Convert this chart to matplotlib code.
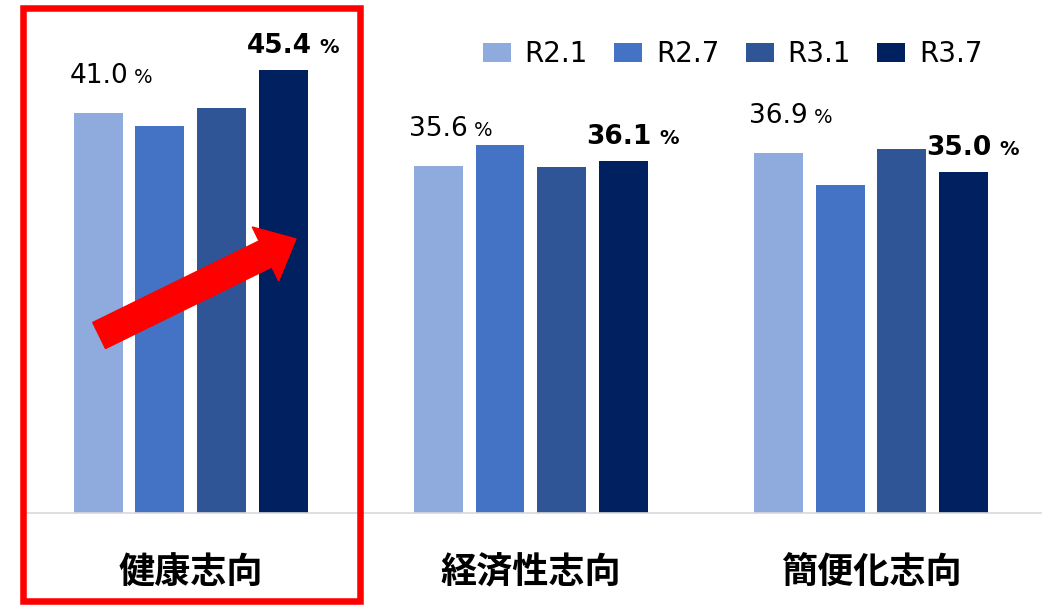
import matplotlib.pyplot as plt
import numpy as np
from matplotlib import patches, transforms

plt.rcParams["font.family"] = ["DejaVu Sans", "Noto Sans CJK JP"]

# data
categories = ["健康志向", "経済性志向", "簡便化志向"]
series = ["R2.1", "R2.7", "R3.1", "R3.7"]
colors = ["#8FAADC", "#4472C4", "#2F5597", "#002060"]
r2_1 = [41.0, 35.6, 36.9]
r2_7 = [39.7, 37.7, 33.6]
r3_1 = [41.5, 35.5, 37.3]
r3_7 = [45.4, 36.1, 35.0]
values = [r2_1, r2_7, r3_1, r3_7]

W, H = 1061, 606
fig = plt.figure(figsize=(W / 100, H / 100), dpi=100)
ax = fig.add_axes([26 / W, 93 / H, 1015 / W, 513 / H])

x = np.arange(len(categories))
width = 0.144
step = 0.182
offsets = (np.arange(len(series)) - 1.5) * step

bars = []
for i, name in enumerate(series):
    b = ax.bar(x + offsets[i], values[i], width, color=colors[i], label=name, zorder=2)
    bars.append(b)

ax.set_xlim(-0.485, 2.5)
ax.set_ylim(0, 52.6)

for s in ["top", "right", "left"]:
    ax.spines[s].set_visible(False)
ax.spines["bottom"].set_color("#d9d9d9")
ax.spines["bottom"].set_linewidth(1.2)
ax.set_yticks([])
ax.set_xticks([])

# category labels
trans = transforms.blended_transform_factory(ax.transData, ax.transAxes)
for xi, cat in zip(x, categories):
    ax.text(xi, -0.117, cat, transform=trans, ha="center", va="center",
            fontsize=26, fontweight="bold", family=["Noto Sans CJK JP"])


# value labels: first series plain, last series bold
def label(xc, v, bold):
    if bold:
        num_off, pct_off, up, weight = 28, 36, 17, "bold"
    else:
        num_off, pct_off, up, weight = 30, 36, 30, "normal"
    ax.annotate(f"{v:.1f}", (xc, v), xytext=(num_off, up), textcoords="offset pixels",
                ha="right", va="baseline", fontsize=19, fontweight=weight)
    ax.annotate("%", (xc, v), xytext=(pct_off, up), textcoords="offset pixels",
                ha="left", va="baseline", fontsize=14, fontweight=weight)


for j in range(len(categories)):
    label(x[j] + offsets[0], r2_1[j], False)
    label(x[j] + offsets[3], r3_7[j], True)

# legend
ax.legend(loc="center left", bbox_to_anchor=(483 / W, 1 - 54 / H),
          bbox_transform=fig.transFigure, ncol=4, frameon=False, fontsize=20,
          borderpad=0, borderaxespad=0, handlelength=1.0, handleheight=0.67,
          handletextpad=0.5, columnspacing=0.95)

# red frame round the first group
rect = patches.Rectangle((22.5 / W, 1 - 601 / H), (360 - 22.5) / W, (601 - 7.5) / H,
                         transform=fig.transFigure, fill=False, edgecolor="#FF0000",
                         linewidth=4.7)
fig.add_artist(rect)

# red rising arrow across the first group
tail = ax.transData.transform((-0.27, 18.2))
tip = ax.transData.transform((0.309, 28.1))
arrow = patches.FancyArrow(tail[0], tail[1], tip[0] - tail[0], tip[1] - tail[1],
                           width=29, head_width=60, head_length=34,
                           length_includes_head=True, color="#FF0000",
                           transform=transforms.IdentityTransform(), zorder=5)
fig.add_artist(arrow)

fig.savefig("out.png", dpi=100)
